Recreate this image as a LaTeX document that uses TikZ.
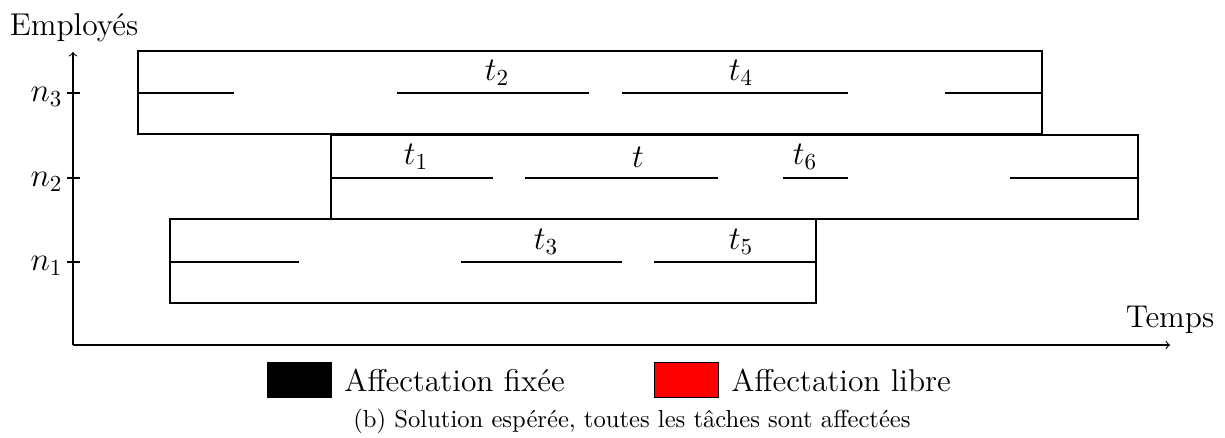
\documentclass[tikz,border=0pt]{standalone}
\usetikzlibrary{arrows}
\newcommand{\bigfs}{\fontsize{13.7pt}{16pt}\selectfont}
\newcommand{\capfs}{\fontsize{10.7pt}{13pt}\selectfont}
\begin{document}
\begin{tikzpicture}[x=0.4348pt,y=-0.4348pt,
  ebox/.style={draw=black,line width=0.8pt},
  seg/.style={line width=0.8pt},
  axisline/.style={line width=0.45pt,->,>=to},
  tlab/.style={font=\bigfs,inner sep=0pt},
  nlab/.style={font=\bigfs,inner sep=0pt,anchor=east},
  legbox/.style={draw=black,line width=0.3pt,minimum width=27.8pt,minimum height=15.2pt,inner sep=0pt},
  legtxt/.style={font=\bigfs,anchor=west,inner sep=0pt}]
\useasboundingbox (0,0) rectangle (1225,438);
% axes
\coordinate (O) at (73,345);
\coordinate (Ytop) at (73,52);
\coordinate (Xend) at (1170,345);
\draw[axisline] (O) -- (Ytop);
\draw[axisline] (O) -- (Xend);
\node[font=\bigfs,inner sep=0pt] (ylab) at (74,28) {Employés};
\node[font=\bigfs,inner sep=0pt] (xlab) at (1170,320) {Temps};
% ticks
\foreach \yy/\nn in {93/3,178/2,262/1}{
  \draw[line width=0.45pt] (67,\yy) -- (80,\yy);
  \node[nlab] (n\nn) at (63,\yy+4) {$n_{\nn}$};
}
% boxes
\draw[ebox] (138,51) rectangle (1042,134);
\draw[ebox] (331,135) rectangle (1138,219);
\draw[ebox] (170,219) rectangle (816,303);
% n3 segments
\draw[seg] (138,93) -- (234,93);
\draw[seg] (397,93) -- (589,93);
\draw[seg] (622,93) -- (848,93);
\draw[seg] (945,93) -- (1042,93);
% n2 segments
\draw[seg] (331,178) -- (493,178);
\draw[seg] (525,178) -- (718,178);
\draw[seg] (783,178) -- (848,178);
\draw[seg] (1010,178) -- (1138,178);
% n1 segments
\draw[seg] (170,262) -- (299,262);
\draw[seg] (461,262) -- (622,262);
\draw[seg] (654,262) -- (816,262);
% task labels
\node[tlab] (t2) at (497,73) {$t_2$};
\node[tlab] (t4) at (741,73) {$t_4$};
\node[tlab] (t1) at (416,157) {$t_1$};
\node[tlab] (t0) at (638,157) {$t$};
\node[tlab] (t6) at (805,157) {$t_6$};
\node[tlab] (t3) at (546,242) {$t_3$};
\node[tlab] (t5) at (741,242) {$t_5$};
% legend
\node[legbox,fill=black] (lb1) at (299.5,380) {};
\node[legtxt] (lt1) at (344,380) {Affectation fixée};
\node[legbox,fill=red] (lb2) at (686,380) {};
\node[legtxt] (lt2) at (731,380) {Affectation libre};
% caption
\node[font=\capfs,inner sep=0pt] (cap) at (632,421) {(b) Solution espérée, toutes les tâches sont affectées};
\end{tikzpicture}
\end{document}
